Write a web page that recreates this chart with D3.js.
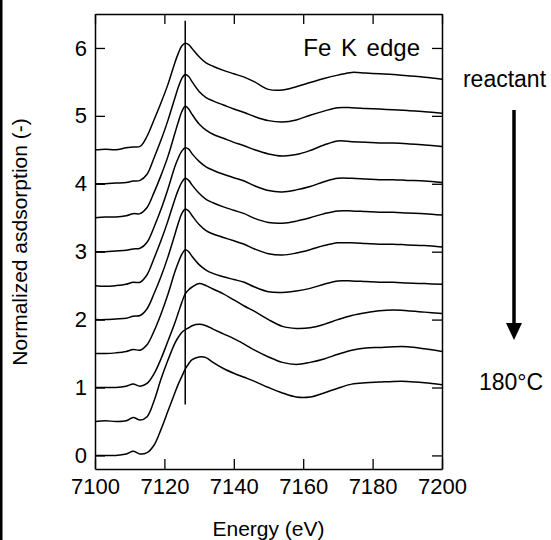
<!doctype html>
<html lang="en">
  <head>
    <meta charset="utf-8">
    <title>Fe K edge XANES</title>
    <script src="https://cdn.jsdelivr.net/npm/d3@7"></script>
    <style>
      body { margin: 0; background: #fff; }
      svg { display: block; font-family: "Liberation Sans", Arial, Helvetica, sans-serif; }
    </style>
  </head>
  <body>
    <script>
      // energy grid (eV) shared by all spectra
      const energy = [7100, 7103, 7106, 7109, 7111, 7113, 7115, 7117, 7119, 7121, 7123, 7124, 7125, 7126, 7127, 7128,
                      7130, 7132, 7134, 7137, 7140, 7143, 7146, 7150, 7154, 7158, 7162, 7166, 7170, 7174, 7178, 7182,
                      7186, 7190, 7195, 7200];

      // vertical offset of each spectrum, reactant (top) to 180°C (bottom)
      const offsets = [4.5, 4.0, 3.5, 3.0, 2.5, 2.0, 1.5, 1.0, 0.5, 0.0];

      // normalized absorption (without offset)
      const s1 = [0.00, 0.01, 0.00, 0.03, 0.04, 0.05, 0.20, 0.44, 0.69, 0.96, 1.28, 1.42, 1.53, 1.57, 1.55, 1.49,
                  1.37, 1.28, 1.23, 1.17, 1.12, 1.07, 1.00, 0.89, 0.88, 0.93, 0.99, 1.05, 1.10, 1.14, 1.13, 1.12,
                  1.11, 1.09, 1.07, 1.04];
      const s2 = [0.00, 0.00, 0.01, 0.02, 0.04, 0.05, 0.14, 0.38, 0.64, 0.93, 1.26, 1.42, 1.55, 1.61, 1.58, 1.50,
                  1.36, 1.27, 1.22, 1.16, 1.10, 1.05, 0.99, 0.93, 0.91, 0.94, 1.01, 1.07, 1.12, 1.12, 1.11, 1.10,
                  1.09, 1.08, 1.06, 1.04];
      const s3 = [0.00, 0.01, 0.01, 0.03, 0.06, 0.06, 0.15, 0.37, 0.62, 0.90, 1.24, 1.41, 1.56, 1.64, 1.60, 1.52,
                  1.38, 1.29, 1.23, 1.17, 1.11, 1.06, 1.00, 0.94, 0.91, 0.93, 0.99, 1.07, 1.13, 1.12, 1.11, 1.10,
                  1.10, 1.09, 1.07, 1.05];
      const s4 = [0.00, 0.00, 0.01, 0.02, 0.04, 0.05, 0.14, 0.36, 0.62, 0.92, 1.25, 1.38, 1.48, 1.53, 1.51, 1.44,
                  1.33, 1.25, 1.20, 1.14, 1.09, 1.04, 0.97, 0.90, 0.88, 0.91, 0.96, 1.03, 1.08, 1.08, 1.07, 1.06,
                  1.06, 1.05, 1.04, 1.02];
      const s5 = [0.00, -0.01, 0.00, 0.02, 0.05, 0.05, 0.16, 0.40, 0.66, 0.95, 1.27, 1.41, 1.52, 1.58, 1.55, 1.48,
                  1.36, 1.27, 1.22, 1.16, 1.11, 1.06, 0.99, 0.93, 0.92, 0.95, 1.00, 1.06, 1.10, 1.10, 1.09, 1.08,
                  1.08, 1.07, 1.06, 1.04];
      const s6 = [0.00, 0.00, 0.01, 0.02, 0.05, 0.06, 0.16, 0.38, 0.63, 0.92, 1.25, 1.42, 1.56, 1.63, 1.60, 1.53,
                  1.40, 1.31, 1.26, 1.21, 1.16, 1.11, 1.04, 0.97, 0.95, 0.98, 1.03, 1.09, 1.13, 1.13, 1.12, 1.11,
                  1.11, 1.10, 1.09, 1.07];
      const s7 = [0.00, 0.00, 0.01, 0.03, 0.06, 0.05, 0.13, 0.33, 0.58, 0.87, 1.20, 1.34, 1.46, 1.53, 1.50, 1.43,
                  1.31, 1.23, 1.18, 1.13, 1.09, 1.05, 0.98, 0.91, 0.90, 0.92, 0.96, 1.02, 1.07, 1.07, 1.06, 1.05,
                  1.05, 1.04, 1.03, 1.02];
      const s8 = [0.00, 0.00, 0.00, 0.02, 0.05, 0.02, 0.06, 0.20, 0.42, 0.68, 0.95, 1.10, 1.25, 1.38, 1.44, 1.48,
                  1.53, 1.50, 1.45, 1.38, 1.29, 1.20, 1.12, 1.00, 0.90, 0.87, 0.88, 0.93, 1.00, 1.06, 1.10, 1.13,
                  1.14, 1.13, 1.11, 1.09];
      const s9 = [0.00, 0.01, 0.00, 0.01, 0.06, 0.02, 0.07, 0.30, 0.62, 0.90, 1.15, 1.24, 1.31, 1.35, 1.38, 1.41,
                  1.43, 1.41, 1.36, 1.29, 1.22, 1.14, 1.05, 0.95, 0.87, 0.84, 0.87, 0.92, 0.99, 1.05, 1.08, 1.09,
                  1.10, 1.10, 1.07, 1.03];
      const s10 = [0.00, 0.00, 0.00, 0.02, 0.06, 0.02, 0.04, 0.15, 0.38, 0.65, 0.92, 1.05, 1.16, 1.27, 1.35, 1.41,
                   1.45, 1.44, 1.37, 1.28, 1.21, 1.15, 1.09, 1.00, 0.92, 0.86, 0.86, 0.92, 0.99, 1.05, 1.07, 1.08,
                   1.09, 1.09, 1.07, 1.04];
      const spectra = [s1, s2, s3, s4, s5, s6, s7, s8, s9, s10];

      const xTicks = [7100, 7120, 7140, 7160, 7180, 7200];
      const yTicks = [0, 1, 2, 3, 4, 5, 6];

      // marker line at the white line energy
      const markerE = 7126;
      const markerY = [0.75, 6.4];

      const w = 551;
      const h = 540;
      const padL = 95, padR = 442, padT = 14, padB = 469;

      const xScale = d3.scaleLinear().domain([7100, 7200]).range([padL, padR]);
      const yScale = d3.scaleLinear().domain([-0.2, 6.5]).range([padB, padT]);

      const svg = d3.select("body")
                    .append("svg")
                    .attr("width", w)
                    .attr("height", h);

      // page border on the left
      svg.append("line")
         .attr("x1", 1.25).attr("x2", 1.25)
         .attr("y1", 0).attr("y2", h)
         .attr("stroke", "#000")
         .attr("stroke-width", 2.5);

      const xAxis = d3.axisBottom(xScale).tickValues(xTicks).tickSize(-10).tickSizeOuter(0).tickPadding(9)
                      .tickFormat((d) => d.toString());
      const xAxisTop = d3.axisTop(xScale).tickValues(xTicks).tickSize(-10).tickSizeOuter(0).tickFormat("");
      const yAxis = d3.axisLeft(yScale).tickValues(yTicks).tickSize(-10).tickSizeOuter(0).tickPadding(8)
                      .tickFormat(d3.format("d"));
      const yAxisRight = d3.axisRight(yScale).tickValues(yTicks).tickSize(-10).tickSizeOuter(0).tickFormat("");

      svg.append("g").attr("transform", "translate(0," + padB + ")").call(xAxis);
      svg.append("g").attr("transform", "translate(0," + padT + ")").call(xAxisTop);
      svg.append("g").attr("transform", "translate(" + padL + ",0)").call(yAxis);
      svg.append("g").attr("transform", "translate(" + padR + ",0)").call(yAxisRight);

      svg.selectAll(".tick line").attr("stroke", "#000").attr("stroke-width", 1.3);
      svg.selectAll(".domain").attr("stroke", "#000").attr("stroke-width", 1.5);
      svg.selectAll(".tick text")
         .attr("fill", "#000")
         .style("font-size", "22px")
         .style("font-family", "'Liberation Sans', Arial, Helvetica, sans-serif");

      const line = d3.line()
                     .x((d) => xScale(d[0]))
                     .y((d) => yScale(d[1]))
                     .curve(d3.curveCatmullRom.alpha(0.5));

      svg.selectAll("path.spectrum")
         .data(spectra)
         .enter()
         .append("path")
         .attr("class", "spectrum")
         .attr("d", (s, i) => line(s.map((v, j) => [energy[j], v + offsets[i]])))
         .attr("fill", "none")
         .attr("stroke", "#000")
         .attr("stroke-width", 1.5);

      svg.append("line")
         .attr("x1", xScale(markerE)).attr("x2", xScale(markerE))
         .attr("y1", yScale(markerY[0])).attr("y2", yScale(markerY[1]))
         .attr("stroke", "#000")
         .attr("stroke-width", 1.5);

      svg.append("text")
         .attr("x", 420).attr("y", 56)
         .attr("text-anchor", "end")
         .style("font-size", "24px")
         .style("word-spacing", "3px")
         .text("Fe K edge");

      svg.append("text")
         .attr("x", (padL + padR) / 2).attr("y", 536)
         .attr("text-anchor", "middle")
         .style("font-size", "21px")
         .text("Energy (eV)");

      svg.append("text")
         .attr("transform", "translate(27,242) rotate(-90)")
         .attr("text-anchor", "middle")
         .style("font-size", "21px")
         .text("Normalized asdsorption (-)");

      // reactant -> 180°C arrow
      svg.append("text")
         .attr("x", 504.5).attr("y", 87)
         .attr("text-anchor", "middle")
         .style("font-size", "23px")
         .text("reactant");

      svg.append("line")
         .attr("x1", 514).attr("x2", 514)
         .attr("y1", 110).attr("y2", 326)
         .attr("stroke", "#000")
         .attr("stroke-width", 3.5);

      svg.append("path")
         .attr("d", "M506,323 L522,323 L514,340 Z")
         .attr("fill", "#000");

      svg.append("text")
         .attr("x", 511).attr("y", 390)
         .attr("text-anchor", "middle")
         .style("font-size", "23px")
         .text("180°C");
    </script>
  </body>
</html>
